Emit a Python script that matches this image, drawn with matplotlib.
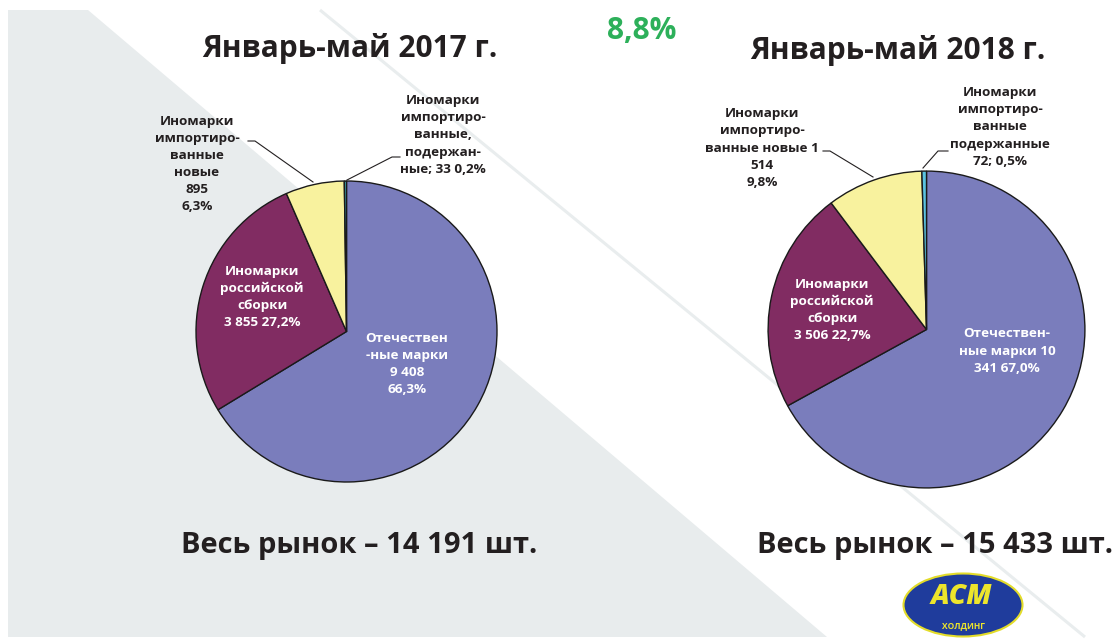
import numpy as np
import matplotlib
matplotlib.use("Agg")
import matplotlib.pyplot as plt
from matplotlib.patches import Polygon, Ellipse

plt.rcParams['font.family'] = ['Open Sans', 'DejaVu Sans']

# data
years = ['Январь-май 2017 г.', 'Январь-май 2018 г.']
totals = ['Весь рынок – 14 191 шт.', 'Весь рынок – 15 433 шт.']
growth = '8,8%'
vals_2017 = [9408, 3855, 895, 33]
vals_2018 = [10341, 3506, 1514, 72]
labels_2017 = ['Отечествен\n-ные марки\n9 408\n66,3%',
               'Иномарки\nроссийской\nсборки\n3 855 27,2%',
               'Иномарки\nимпортиро-\nванные\nновые\n895\n6,3%',
               'Иномарки\nимпортиро-\nванные,\nподержан-\nные; 33 0,2%']
labels_2018 = ['Отечествен-\nные марки 10\n341 67,0%',
               'Иномарки\nроссийской\nсборки\n3 506 22,7%',
               'Иномарки\nимпортиро-\nванные новые 1\n514\n9,8%',
               'Иномарки\nимпортиро-\nванные\nподержанные\n72; 0,5%']
colors_2017 = ['#7A7DBC', '#812C62', '#F8F29E', '#3FA9B5']
colors_2018 = ['#7A7DBC', '#812C62', '#F8F29E', '#5BC3E0']

W, H = 1116, 639
fig = plt.figure(figsize=(W / 100, H / 100), dpi=100)
fig.patch.set_facecolor('white')

def px_axes(x, y, w, h, z):
    # axes placed by pixel box (top-left origin)
    return fig.add_axes([x / W, 1 - (y + h) / H, w / W, h / H], zorder=z)

# background decoration
bg = px_axes(0, 0, W, H, 0)
bg.set_xlim(0, W); bg.set_ylim(H, 0); bg.axis('off')
bg.add_patch(Polygon([(8, 10), (88, 10), (827, 637), (8, 637)],
                     closed=True, facecolor='#E8ECED', edgecolor='none'))
bg.plot([320, 1085], [10, 637], color='#E9EDEE', lw=2.2, solid_capstyle='butt')

# pies
pies = [(346.5, 331.5, 152, vals_2017, colors_2017),
        (926.5, 329.5, 160, vals_2018, colors_2018)]
for cx, cy, r, vals, cols in pies:
    pa = px_axes(cx - r, cy - r, 2 * r, 2 * r, 1)
    pa.pie(vals, colors=cols, startangle=90, counterclock=False, radius=1,
           wedgeprops=dict(edgecolor='#1a1a1a', linewidth=1.0))
    pa.set_xlim(-1.01, 1.01); pa.set_ylim(-1.01, 1.01)
    pa.set_aspect('auto'); pa.axis('off')

# overlay text
ov = px_axes(0, 0, W, H, 2)
ov.set_xlim(0, W); ov.set_ylim(H, 0); ov.axis('off')

big = dict(ha='center', va='center', fontweight='bold')
ov.text(350, 48, years[0], fontsize=21.5, color='#231F20', **big)
ov.text(898, 50, years[1], fontsize=21.5, color='#231F20', **big)
ov.text(642, 31, growth, fontsize=21.5, color='#2DB05A', **big)
ov.text(359, 545, totals[0], fontsize=21, color='#231F20', **big)
ov.text(935, 545, totals[1], fontsize=21, color='#231F20', **big)

lab_kw = dict(ha='center', va='center', fontsize=9.7, fontweight='bold', linespacing=1.42)
# 2017 labels
ov.text(407, 364, labels_2017[0], color='white', **lab_kw)
ov.text(262, 297, labels_2017[1], color='white', **lab_kw)
ov.text(197, 164, labels_2017[2], color='#231F20', **lab_kw)
ov.text(443, 135, labels_2017[3], color='#231F20', **lab_kw)
# 2018 labels
ov.text(1007, 351, labels_2018[0], color='white', **lab_kw)
ov.text(832, 310, labels_2018[1], color='white', **lab_kw)
ov.text(762, 148, labels_2018[2], color='#231F20', **lab_kw)
ov.text(1000, 127, labels_2018[3], color='#231F20', **lab_kw)

# leader lines
leaders = [([248, 255, 313], [141, 141, 182]),
           ([400, 392, 347], [157, 157, 180]),
           ([823, 830, 873], [151, 151, 177]),
           ([948, 938, 923], [151, 151, 168])]
for xs, ys in leaders:
    ov.plot(xs, ys, color='#231F20', lw=0.8)

# logo
ov.add_patch(Ellipse((963, 605), 119, 63, facecolor='#1F3C9C', edgecolor='#E3DC2A', lw=1.5))
ov.text(961, 596, 'АСМ', ha='center', va='center', fontsize=20, fontweight='heavy',
        fontstyle='italic', color='#EDE52C')
ov.text(963, 626, 'ХОЛДИНГ', ha='center', va='center', fontsize=6, fontweight='bold', color='#EDE52C')

fig.savefig('out.png', dpi=100)
